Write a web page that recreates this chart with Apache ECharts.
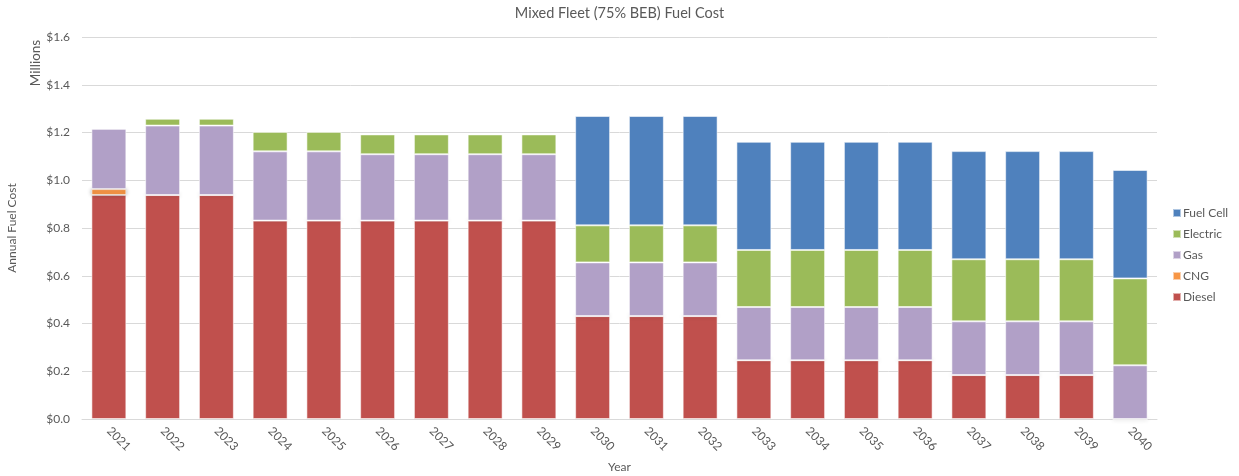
<!DOCTYPE html>
<html>
<head>
<meta charset="utf-8">
<script src="https://cdn.jsdelivr.net/npm/echarts@6/dist/echarts.min.js"></script>
<style>
  html, body { margin: 0; padding: 0; background: #fff; }
  #chart { width: 1239px; height: 476px; }
</style>
</head>
<body>
<div id="chart"></div>
<script>
// Annual fuel cost by fuel type, in millions of dollars
const years = ['2021','2022','2023','2024','2025','2026','2027','2028','2029','2030',
               '2031','2032','2033','2034','2035','2036','2037','2038','2039','2040'];
const diesel   = [0.938,0.938,0.938,0.831,0.831,0.831,0.831,0.831,0.831,0.431,
                  0.431,0.431,0.246,0.246,0.246,0.246,0.184,0.184,0.184,0];
const cng      = [0.025,0,0,0,0,0,0,0,0,0,0,0,0,0,0,0,0,0,0,0];
const gas      = [0.253,0.291,0.291,0.290,0.290,0.278,0.278,0.278,0.278,0.225,
                  0.225,0.225,0.223,0.223,0.223,0.223,0.225,0.225,0.225,0.225];
const electric = [0,0.029,0.029,0.082,0.082,0.083,0.083,0.083,0.083,0.155,
                  0.155,0.155,0.239,0.239,0.239,0.239,0.260,0.260,0.260,0.364];
const fuelCell = [0,0,0,0,0,0,0,0,0,0.458,
                  0.458,0.458,0.453,0.453,0.453,0.453,0.453,0.453,0.453,0.454];
const yTicks = { min: 0, max: 1.6, step: 0.2 };

const FONT = 'Lato, "Open Sans", sans-serif';
const TEXT = '#595959';

function barSeries(name, data, color, extra) {
  return Object.assign({
    name: name,
    type: 'bar',
    stack: 'cost',
    data: data,
    barCategoryGap: '35%',
    itemStyle: { color: color, borderColor: 'rgba(255,255,255,0.55)', borderWidth: 1 },
    emphasis: { disabled: true }
  }, extra || {});
}

const chart = echarts.init(document.getElementById('chart'), null, { renderer: 'canvas' });
chart.setOption({
  animation: false,
  backgroundColor: '#ffffff',
  textStyle: { fontFamily: FONT },
  title: {
    text: 'Mixed Fleet (75% BEB) Fuel Cost',
    left: 'center',
    top: 1,
    textStyle: { fontFamily: FONT, fontSize: 14.5, fontWeight: 'normal', color: TEXT }
  },
  grid: { left: 82, right: 82, top: 37, bottom: 57, outerBoundsMode: 'none', containLabel: false },
  legend: {
    orient: 'vertical',
    left: 1167,
    top: 202,
    itemWidth: 8,
    itemHeight: 8,
    itemGap: 9,
    icon: 'rect',
    textStyle: { fontFamily: FONT, fontSize: 12, color: TEXT, padding: [0, 0, 0, -3] },
    data: ['Fuel Cell', 'Electric', 'Gas', 'CNG', 'Diesel']
  },
  xAxis: {
    type: 'category',
    data: years,
    name: 'Year',
    nameLocation: 'middle',
    nameGap: 42,
    nameTextStyle: { fontFamily: FONT, fontSize: 12, color: TEXT },
    axisLine: { lineStyle: { color: '#d9d9d9', width: 1 } },
    axisTick: { show: false },
    axisLabel: { rotate: -45, margin: 10, fontFamily: FONT, fontSize: 12, color: TEXT }
  },
  yAxis: {
    type: 'value',
    min: yTicks.min,
    max: yTicks.max,
    interval: yTicks.step,
    axisLine: { show: false },
    axisTick: { show: false },
    splitLine: { lineStyle: { color: '#d9d9d9', width: 1 } },
    axisLabel: {
      margin: 12,
      fontFamily: FONT, fontSize: 12, color: TEXT,
      formatter: v => '$' + v.toFixed(1)
    }
  },
  graphic: [
    {
      type: 'text', x: 36, y: 63, rotation: Math.PI / 2,
      style: { text: 'Millions', fontFamily: FONT, fontSize: 13.5, fill: TEXT,
               textAlign: 'center', textVerticalAlign: 'middle' }
    },
    {
      type: 'text', x: 12, y: 228, rotation: Math.PI / 2,
      style: { text: 'Annual Fuel Cost', fontFamily: FONT, fontSize: 12, fill: TEXT,
               textAlign: 'center', textVerticalAlign: 'middle' }
    }
  ],
  series: [
    barSeries('Diesel', diesel, '#C0504D'),
    barSeries('CNG', cng, '#F79646', {
      itemStyle: { color: '#F79646', borderColor: 'rgba(255,255,255,0.55)', borderWidth: 1,
                   shadowBlur: 4, shadowColor: 'rgba(0,0,0,0.35)' }
    }),
    barSeries('Gas', gas, '#B1A0C7'),
    barSeries('Electric', electric, '#9BBB59'),
    barSeries('Fuel Cell', fuelCell, '#4F81BD')
  ]
});
</script>
</body>
</html>
